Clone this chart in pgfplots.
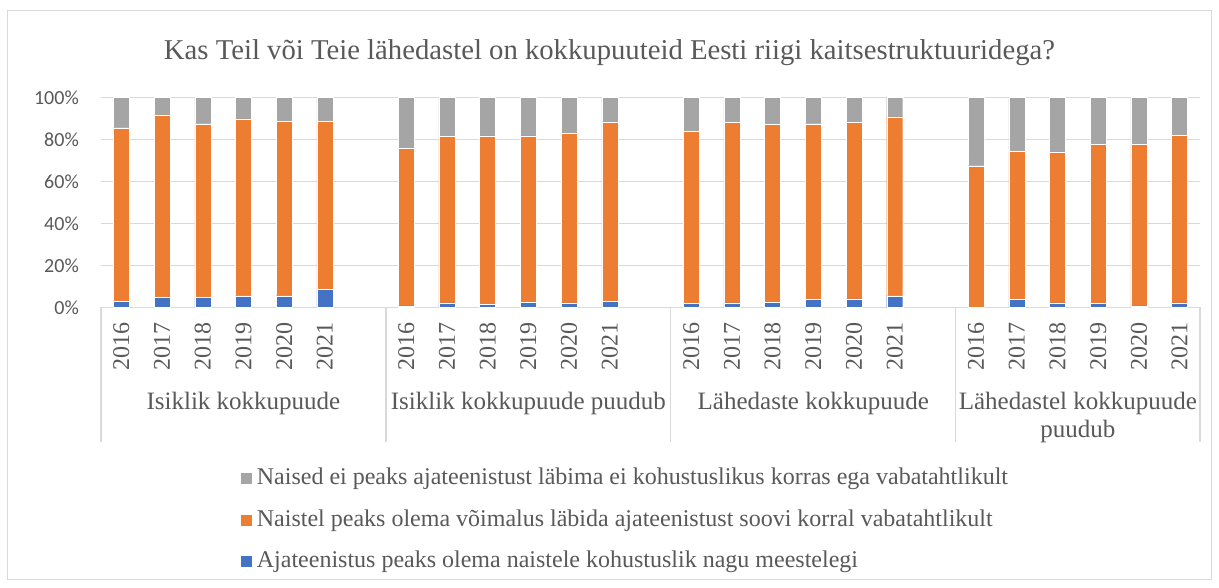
\documentclass[border=0pt]{standalone}
\usepackage{pgfplots}
\pgfplotsset{compat=1.18}
\usepackage{pgfplotstable}
\usepackage{fontspec}
\setmainfont{Liberation Serif}
\newfontfamily\calibri{Carlito}
\definecolor{cblue}{HTML}{4472C4}
\definecolor{corange}{HTML}{ED7D31}
\definecolor{cgray}{HTML}{A5A5A5}
\definecolor{ctext}{HTML}{595959}
\definecolor{cgrid}{HTML}{D9D9D9}
\pgfplotsset{sq/.style={legend image code/.code={\fill[##1,draw=none] (0pt,-5.5pt) rectangle (11pt,5.5pt);}}}

\pgfplotstableread{
x b o g
0 3.0 82.6 14.4
1 4.8 86.9 8.3
2 4.8 82.7 12.5
3 5.6 84.2 10.2
4 5.6 83.0 11.4
5 8.6 80.0 11.4
7 0.8 74.9 24.3
8 2.2 79.2 18.6
9 1.4 80.3 18.3
10 2.4 79.3 18.3
11 2.2 80.7 17.1
12 3.0 85.4 11.6
14 1.9 81.9 16.2
15 2.2 86.1 11.7
16 2.4 84.7 12.9
17 3.8 83.7 12.5
18 4.1 84.0 11.9
19 5.6 85.2 9.2
21 0.2 67.3 32.5
22 3.8 70.5 25.7
23 2.2 71.9 25.9
24 1.9 75.7 22.4
25 0.8 76.8 22.4
26 2.2 79.7 18.1
}\data

\begin{document}
\begin{tikzpicture}
\useasboundingbox (-101pt,-280.5pt) rectangle (1118pt,307.5pt);
\fill[white] (-101pt,-280.5pt) rectangle (1118pt,307.5pt);
\draw[cgrid, line width=1pt] (-93pt,-272.5pt) rectangle (1110pt,296.5pt);
\node[anchor=base, font=\fontsize{28.7}{34}\selectfont, text=ctext] at (508.5pt,248.2pt)
  {Kas Teil või Teie lähedastel on kokkupuuteid Eesti riigi kaitsestruktuuridega?};
\begin{axis}[
  at={(0pt,0pt)}, anchor=south west, scale only axis,
  width=1099pt, height=210pt,
  xmin=-0.5, xmax=26.5, ymin=0, ymax=100,
  ybar stacked, bar width=16pt,
  axis line style={draw=none}, major tick length=0pt,
  ymajorgrids, grid style={cgrid, line width=1.3pt},
  ytick={0,20,40,60,80,100},
  /pgf/number format/assume math mode=true,
  yticklabel={\pgfmathprintnumber{\tick}\%},
  yticklabel style={font=\calibri\fontsize{20}{24}\selectfont, text=ctext, inner sep=0pt, xshift=-22pt},
  xtick={0,1,2,3,4,5,7,8,9,10,11,12,14,15,16,17,18,19,21,22,23,24,25,26},
  xticklabels={2016,2017,2018,2019,2020,2021,2016,2017,2018,2019,2020,2021,2016,2017,2018,2019,2020,2021,2016,2017,2018,2019,2020,2021},
  xticklabel style={rotate=90, anchor=east, inner sep=0pt, font=\fontsize{24}{28}\selectfont, text=ctext},
  xticklabel shift=15pt,
  clip=false,
  reverse legend,
  legend style={at={(0.1271,-0.761)}, anchor=north west, draw=none, fill=none,
    font=\fontsize{24}{28}\selectfont, text=ctext, inner sep=0pt,
    row sep=19.5pt, column sep=5pt,
    nodes={inner sep=0pt, text height=17pt, text depth=5pt},
    cells={anchor=west}},
]
\addplot[fill=cblue, draw=white, line width=0.4pt, sq] table[x=x,y=b]{\data};
\addplot[fill=corange, draw=white, line width=0.4pt, sq] table[x=x,y=o]{\data};
\addplot[fill=cgray, draw=white, line width=0.4pt, sq] table[x=x,y=g]{\data};
\legend{Ajateenistus peaks olema naistele kohustuslik nagu meestelegi,
Naistel peaks olema võimalus läbida ajateenistust soovi korral vabatahtlikult,
Naised ei peaks ajateenistust läbima ei kohustuslikus korras ega vabatahtlikult}
\draw[cgrid, line width=1.3pt] (axis cs:-0.5,0) -- ([yshift=-134.2pt]axis cs:-0.5,0);
\draw[cgrid, line width=1.3pt] (axis cs:6.5,0) -- ([yshift=-134.2pt]axis cs:6.5,0);
\draw[cgrid, line width=1.3pt] (axis cs:13.5,0) -- ([yshift=-134.2pt]axis cs:13.5,0);
\draw[cgrid, line width=1.3pt] (axis cs:20.5,0) -- ([yshift=-134.2pt]axis cs:20.5,0);
\draw[cgrid, line width=1.3pt] (axis cs:26.5,0) -- ([yshift=-134.2pt]axis cs:26.5,0);
\node[anchor=base, font=\fontsize{25}{30}\selectfont, text=ctext] at ([yshift=-101.8pt]axis cs:3,0) {Isiklik kokkupuude};
\node[anchor=base, font=\fontsize{25}{30}\selectfont, text=ctext] at ([yshift=-101.8pt]axis cs:10,0) {Isiklik kokkupuude puudub};
\node[anchor=base, font=\fontsize{25}{30}\selectfont, text=ctext] at ([yshift=-101.8pt]axis cs:17,0) {Lähedaste kokkupuude};
\node[anchor=base, font=\fontsize{25}{30}\selectfont, text=ctext] at ([yshift=-101.8pt]axis cs:23.5,0) {Lähedastel kokkupuude};
\node[anchor=base, font=\fontsize{25}{30}\selectfont, text=ctext] at ([yshift=-129.5pt]axis cs:23.5,0) {puudub};
\end{axis}
\end{tikzpicture}
\end{document}
